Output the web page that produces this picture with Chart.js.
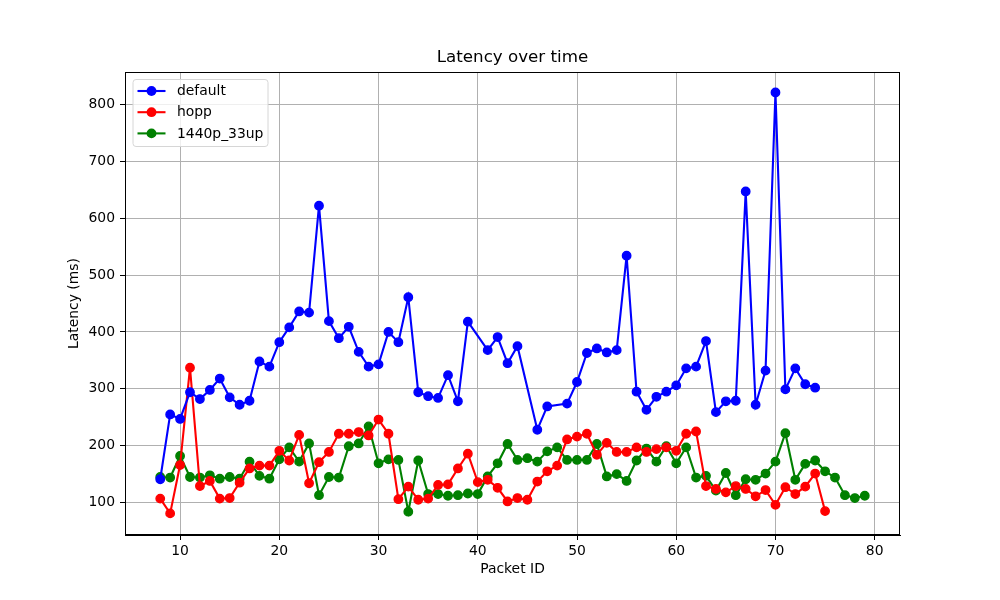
<!DOCTYPE html>
<html>
<head>
<meta charset="utf-8">
<script src="https://cdn.jsdelivr.net/npm/chart.js@4/dist/chart.umd.min.js"></script>
<style>
html, body { margin: 0; background: #fff; }
canvas { display: block; }
</style>
</head>
<body>
<canvas id="latencyChart" width="1000" height="600"></canvas>
<script>
// === DATA ===
const defaultIds = [8,9,10,11,12,13,14,15,16,17,18,19,20,21,22,23,24,25,26,27,28,29,30,31,32,33,34,35,36,37,38,39,
    41,42,43,44,46,47,49,50,51,52,53,54,55,56,57,58,59,60,61,62,63,64,65,66,67,68,69,70,71,72,73,74];
const defaultLatency = [141,255,247,294,282,298,318,285,272,279,348,339,382,408,436,434,622,419,389,409,365,339,343,400,382,461,294,287,284,324,278,418,
    368,391,345,375,228,269,274,312,363,371,364,368,534,295,263,286,295,306,336,339,384,259,278,279,647,272,332,821,299,336,308,302];

const hoppIds = [8,9,10,11,12,13,14,15,16,17,18,19,20,21,22,23,24,25,26,27,28,29,30,31,32,33,34,35,36,37,38,39,40,41,
    42,43,44,45,46,47,48,49,50,51,52,53,54,55,56,57,58,59,60,61,62,63,64,65,66,67,68,69,70,71,72,73,74,75];
const hoppLatency = [107,81,166,337,129,138,107,108,135,160,165,165,191,174,219,134,171,189,221,221,224,218,246,221,106,128,105,107,131,132,160,186,136,140,
    126,102,108,105,137,155,165,211,216,221,184,205,189,189,197,189,194,197,191,221,225,129,124,118,129,124,111,122,96,127,115,128,151,85];

const upIds = [8,9,10,11,12,13,14,15,16,17,18,19,20,21,22,23,24,25,26,27,28,29,30,31,32,33,34,35,36,37,38,39,40,41,42,43,
    44,45,46,47,48,49,50,51,52,53,54,55,56,57,58,59,60,61,62,63,64,65,66,67,68,69,70,71,72,73,74,75,76,77,78,79];
const upLatency = [145,144,182,145,144,148,142,145,142,172,147,142,176,197,172,204,113,145,144,199,204,234,169,176,175,84,174,115,115,112,113,116,115,146,169,203,
    175,178,172,190,197,175,175,175,203,146,150,138,174,195,172,199,169,197,144,147,121,152,113,141,140,151,172,222,140,168,174,155,144,113,108,112];

const xTicks = [10,20,30,40,50,60,70,80];
const yTicks = [100,200,300,400,500,600,700,800];

const FONT = "'DejaVu Sans', sans-serif";

function pairs(ids, vals) {
    return ids.map((id, i) => ({ x: id, y: vals[i] }));
}

function series(label, ids, vals, color) {
    return {
        label: label,
        data: pairs(ids, vals),
        borderColor: color,
        backgroundColor: color,
        borderWidth: 2.1,
        pointRadius: 4.2,
        pointBorderWidth: 1.4,
        pointBackgroundColor: color,
        pointBorderColor: color,
        tension: 0
    };
}

// === TITRE CENTRE SUR LA ZONE DU GRAPHE ===
const plotTitle = {
    id: "plotTitle",
    afterDraw(chart) {
        const a = chart.chartArea;
        const ctx = chart.ctx;
        ctx.save();
        ctx.fillStyle = "#000";
        ctx.font = "16.7px " + FONT;
        ctx.textAlign = "center";
        ctx.textBaseline = "middle";
        ctx.fillText("Latency over time", (a.left + a.right) / 2, 58);
        ctx.restore();
    }
};

// === LEGENDE DANS LE CADRE (style matplotlib) ===
const boxLegend = {
    id: "boxLegend",
    afterDatasetsDraw(chart) {
        const ctx = chart.ctx;
        const x0 = 133, y0 = 79.5, w = 135, h = 67;
        ctx.save();
        ctx.beginPath();
        ctx.roundRect(x0, y0, w, h, 3);
        ctx.fillStyle = "rgba(255,255,255,0.8)";
        ctx.fill();
        ctx.strokeStyle = "#d6d6d6";
        ctx.lineWidth = 1;
        ctx.stroke();
        chart.data.datasets.forEach((ds, i) => {
            const y = 91 + i * 21.2;
            ctx.strokeStyle = ds.borderColor;
            ctx.lineWidth = 2.1;
            ctx.beginPath();
            ctx.moveTo(137.5, y);
            ctx.lineTo(165.5, y);
            ctx.stroke();
            ctx.fillStyle = ds.borderColor;
            ctx.beginPath();
            ctx.arc(151.5, y, 4.9, 0, Math.PI * 2);
            ctx.fill();
            ctx.fillStyle = "#000";
            ctx.font = "13.9px " + FONT;
            ctx.textBaseline = "middle";
            ctx.textAlign = "left";
            ctx.fillText(ds.label, 177, y + 0.5);
        });
        ctx.restore();
    }
};

// === CADRE NOIR AUTOUR DU GRAPHE ===
const frame = {
    id: "frame",
    afterDraw(chart) {
        const a = chart.chartArea;
        const ctx = chart.ctx;
        ctx.save();
        ctx.strokeStyle = "#000";
        ctx.lineWidth = 1;
        ctx.strokeRect(Math.round(a.left) + 0.5, Math.round(a.top) + 0.5,
            Math.round(a.right - a.left) - 1, Math.round(a.bottom - a.top) - 1);
        ctx.restore();
    }
};

const tickFont = { family: FONT, size: 13.9 };

new Chart(document.getElementById("latencyChart"), {
    type: "line",
    data: {
        datasets: [
            series("default", defaultIds, defaultLatency, "#0000ff"),
            series("hopp", hoppIds, hoppLatency, "#ff0000"),
            series("1440p_33up", upIds, upLatency, "#008000")
        ]
    },
    options: {
        responsive: false,
        devicePixelRatio: 1,
        animation: false,
        layout: { padding: { left: 0, right: 100, top: 72, bottom: 0 } },
        plugins: {
            legend: { display: false },
            tooltip: { enabled: false },
            title: { display: false }
        },
        scales: {
            x: {
                type: "linear",
                min: 4.45,
                max: 82.55,
                afterBuildTicks: s => { s.ticks = xTicks.map(v => ({ value: v })); },
                afterFit: s => { s.height = 65; },
                grid: { color: "#b0b0b0", lineWidth: 1, tickLength: 5, tickColor: "#000" },
                border: { color: "#000", width: 1 },
                ticks: { color: "#000", font: tickFont, padding: 3, maxRotation: 0 },
                title: {
                    display: true,
                    text: "Packet ID",
                    color: "#000",
                    font: tickFont,
                    padding: { top: 0, bottom: 22 }
                }
            },
            y: {
                type: "linear",
                min: 43,
                max: 857,
                afterBuildTicks: s => { s.ticks = yTicks.map(v => ({ value: v })); },
                afterFit: s => { s.width = 125; },
                grid: { color: "#b0b0b0", lineWidth: 1, tickLength: 5, tickColor: "#000" },
                border: { color: "#000", width: 1 },
                ticks: { color: "#000", font: tickFont, padding: 5 },
                title: {
                    display: true,
                    text: "Latency (ms)",
                    color: "#000",
                    font: tickFont,
                    padding: { top: 66, bottom: 0 }
                }
            }
        }
    },
    plugins: [plotTitle, boxLegend, frame]
});
</script>
</body>
</html>
